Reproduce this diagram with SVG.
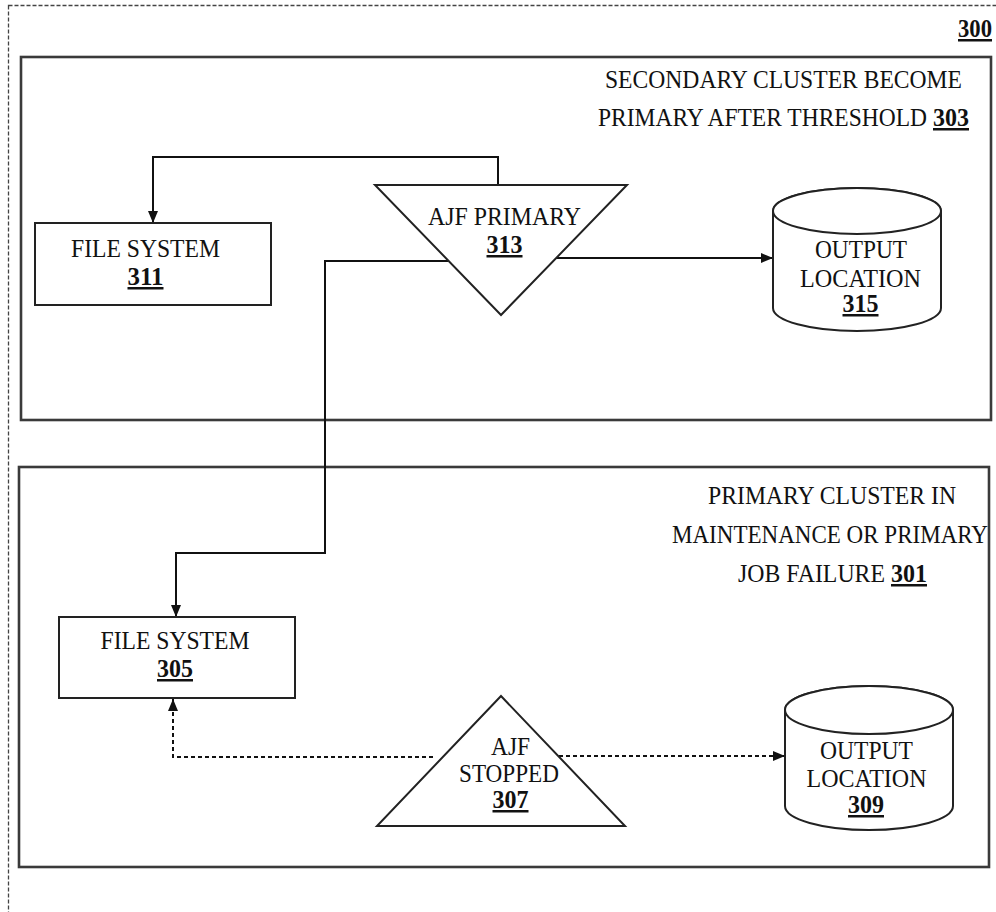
<svg xmlns="http://www.w3.org/2000/svg" width="996" height="912" viewBox="0 0 996 912">
  <style>
    .lbl { font-family: "Liberation Serif", "Times New Roman", serif; font-size: 25px; fill: #111; }
    .num { font-weight: bold; text-decoration: underline; }
    .frame { fill: none; stroke: #444; stroke-width: 1.3; stroke-dasharray: 4 2; }
    .cluster { fill: none; stroke: #3a3a3a; stroke-width: 2.6; }
    .shape { fill: #fff; stroke: #222; stroke-width: 2; }
    .link { fill: none; stroke: #111; stroke-width: 2; }
    .dotted { fill: none; stroke: #111; stroke-width: 2; stroke-dasharray: 4 3; }
  </style>
  <defs>
    <marker id="arrow" markerUnits="userSpaceOnUse" markerWidth="14" markerHeight="14" viewBox="0 0 14 14" refX="13" refY="7" orient="auto">
      <path d="M1,2 L13,7 L1,12 Z" fill="#111"/>
    </marker>
  </defs>

  <rect x="0" y="0" width="996" height="912" fill="#fff"/>

  <!-- outer figure frame -->
  <rect class="frame" x="8.5" y="5.5" width="1000" height="1000"/>
  <text class="lbl num" x="975" y="37" text-anchor="middle" textLength="34" lengthAdjust="spacingAndGlyphs">300</text>

  <!-- cluster 303 -->
  <g id="cluster303">
    <rect class="cluster" x="21" y="57" width="970" height="363"/>
    <text class="lbl" x="783.5" y="88" text-anchor="middle" textLength="357" lengthAdjust="spacingAndGlyphs">SECONDARY CLUSTER BECOME</text>
    <text class="lbl" x="598" y="126" textLength="329" lengthAdjust="spacingAndGlyphs">PRIMARY AFTER THRESHOLD</text>
    <text class="lbl num" x="933" y="126" textLength="36" lengthAdjust="spacingAndGlyphs">303</text>
  </g>

  <!-- cluster 301 -->
  <g id="cluster301">
    <rect class="cluster" x="19" y="467" width="970" height="400"/>
    <text class="lbl" x="832" y="504" text-anchor="middle" textLength="248" lengthAdjust="spacingAndGlyphs">PRIMARY CLUSTER IN</text>
    <text class="lbl" x="830" y="543" text-anchor="middle" textLength="316" lengthAdjust="spacingAndGlyphs">MAINTENANCE OR PRIMARY</text>
    <text class="lbl" x="738" y="582" textLength="147" lengthAdjust="spacingAndGlyphs">JOB FAILURE</text>
    <text class="lbl num" x="891" y="582" textLength="36" lengthAdjust="spacingAndGlyphs">301</text>
  </g>

  <!-- connectors -->
  <g id="connectors">
    <path class="link" d="M498,185 V157 H153 V223" marker-end="url(#arrow)"/>
    <path class="link" d="M448,261 H325 V553 H176 V617" marker-end="url(#arrow)"/>
    <path class="link" d="M555,258 H773" marker-end="url(#arrow)"/>
    <path class="dotted" d="M433,757 H173 V699" marker-end="url(#arrow)"/>
    <path class="dotted" d="M559,756 H785" marker-end="url(#arrow)"/>
  </g>

  <!-- file system 311 -->
  <g id="fs311">
    <rect class="shape" x="35" y="223" width="236" height="82"/>
    <text class="lbl" x="145.5" y="257" text-anchor="middle" textLength="149" lengthAdjust="spacingAndGlyphs">FILE SYSTEM</text>
    <text class="lbl num" x="145.5" y="285" text-anchor="middle" textLength="36" lengthAdjust="spacingAndGlyphs">311</text>
  </g>

  <!-- AJF primary 313 -->
  <g id="ajf313">
    <polygon class="shape" points="375,185 627,185 501,315"/>
    <text class="lbl" x="504.5" y="225" text-anchor="middle" textLength="153" lengthAdjust="spacingAndGlyphs">AJF PRIMARY</text>
    <text class="lbl num" x="504.5" y="253" text-anchor="middle" textLength="36" lengthAdjust="spacingAndGlyphs">313</text>
  </g>

  <!-- output location 315 -->
  <g id="out315">
    <path class="shape" d="M773,211 V308 A84,23 0 0 0 941,308 V211 A84,23 0 0 0 773,211 Z"/>
    <ellipse class="shape" cx="857" cy="211" rx="84" ry="23"/>
    <text class="lbl" x="861" y="258" text-anchor="middle" textLength="92" lengthAdjust="spacingAndGlyphs">OUTPUT</text>
    <text class="lbl" x="860.5" y="287" text-anchor="middle" textLength="121" lengthAdjust="spacingAndGlyphs">LOCATION</text>
    <text class="lbl num" x="860.5" y="312" text-anchor="middle" textLength="36" lengthAdjust="spacingAndGlyphs">315</text>
  </g>

  <!-- file system 305 -->
  <g id="fs305">
    <rect class="shape" x="59" y="617" width="236" height="81"/>
    <text class="lbl" x="175" y="649" text-anchor="middle" textLength="149" lengthAdjust="spacingAndGlyphs">FILE SYSTEM</text>
    <text class="lbl num" x="175" y="677" text-anchor="middle" textLength="36" lengthAdjust="spacingAndGlyphs">305</text>
  </g>

  <!-- AJF stopped 307 -->
  <g id="ajf307">
    <polygon class="shape" points="501,696 377,826 625,826"/>
    <text class="lbl" x="510.5" y="755" text-anchor="middle" textLength="39" lengthAdjust="spacingAndGlyphs">AJF</text>
    <text class="lbl" x="509" y="782" text-anchor="middle" textLength="100" lengthAdjust="spacingAndGlyphs">STOPPED</text>
    <text class="lbl num" x="510.5" y="808" text-anchor="middle" textLength="36" lengthAdjust="spacingAndGlyphs">307</text>
  </g>

  <!-- output location 309 -->
  <g id="out309">
    <path class="shape" d="M785,710 V806 A84,24 0 0 0 953,806 V710 A84,24 0 0 0 785,710 Z"/>
    <ellipse class="shape" cx="869" cy="710" rx="84" ry="24"/>
    <text class="lbl" x="866.5" y="759" text-anchor="middle" textLength="93" lengthAdjust="spacingAndGlyphs">OUTPUT</text>
    <text class="lbl" x="866.5" y="787" text-anchor="middle" textLength="120" lengthAdjust="spacingAndGlyphs">LOCATION</text>
    <text class="lbl num" x="866" y="813" text-anchor="middle" textLength="36" lengthAdjust="spacingAndGlyphs">309</text>
  </g>
</svg>
